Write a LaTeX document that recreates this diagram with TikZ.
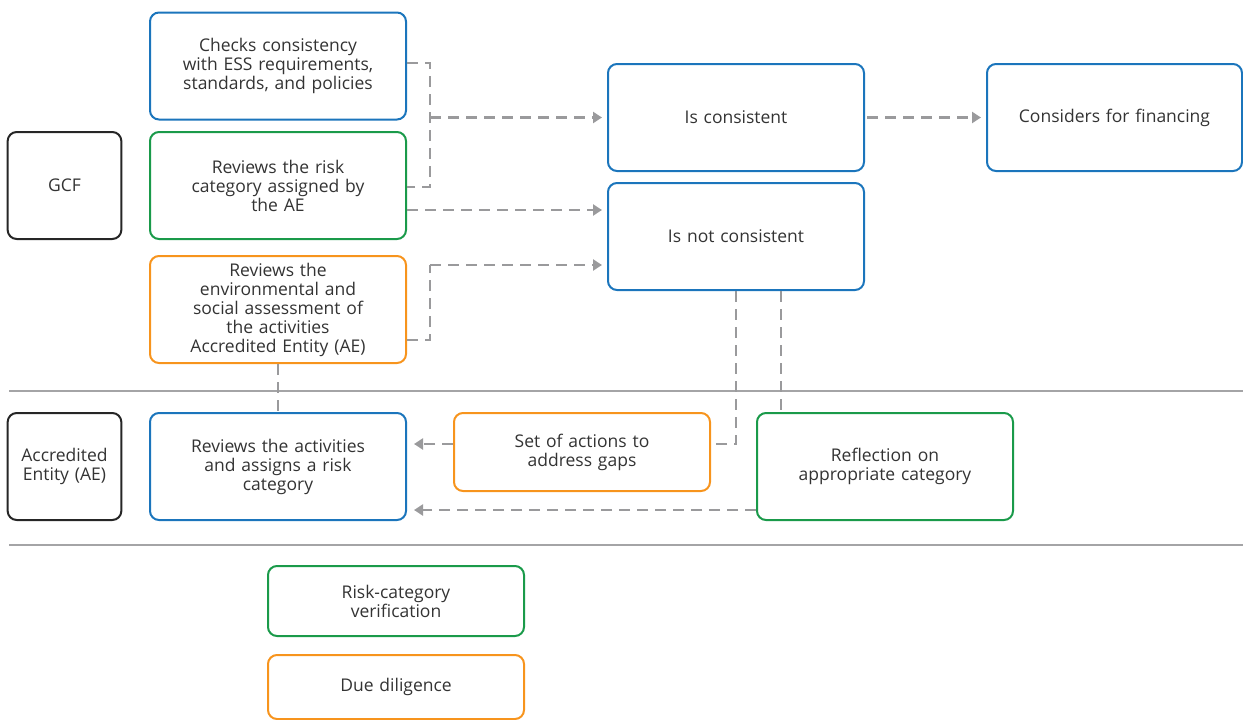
\documentclass[tikz,border=0pt]{standalone}
\usepackage{fontspec}
\setmainfont{Open Sans}
\usetikzlibrary{arrows.meta}

\definecolor{gcfblue}{HTML}{1B75BC}
\definecolor{gcfgreen}{HTML}{1A9A4A}
\definecolor{gcforange}{HTML}{F7941D}
\definecolor{gcfgray}{HTML}{9A9A9C}
\definecolor{gcftext}{HTML}{333333}

\begin{document}
\begin{tikzpicture}[x=1pt, y=-1pt,
    box/.style={draw, line width=2pt, rounded corners=9pt, align=center,
      minimum width=256pt, minimum height=107pt, text width=240pt,
      text=gcftext, font=\fontsize{17.5}{19}\selectfont},
    actor/.style={box, draw=black!85, minimum width=111pt, text width=107pt},
    blue/.style={box, draw=gcfblue},
    green/.style={box, draw=gcfgreen},
    orange/.style={box, draw=gcforange},
    dline/.style={draw=gcfgray, line width=2.5pt, dash pattern=on 11pt off 7pt},
    darr/.style={dline, -{Triangle[length=9pt,width=11pt]}, shorten >=5pt},
    sep/.style={draw=gcfgray!90, line width=2pt}]

      \useasboundingbox (0,0) rectangle (1243,720);

      % Actors
	  \node[actor]                             (gcf) at (64.5,185.5) {GCF};
	  \node[actor]                             (ae) at (64.5,466.5) {Accredited\\Entity (AE)};

      % GCF row
	  \node[blue]                              (checks) at (278,66) {Checks consistency\\with ESS requirements,\\standards, and policies};
	  \node[green]                             (risk) at (278,185.5) {Reviews the risk\\category assigned by\\the AE};
	  \node[orange]                            (env) at (278,309.5) {Reviews the\\environmental and\\social assessment of\\the activities\\Accredited Entity (AE)};
	  \node[blue]                              (cons) at (736,117.5) {Is consistent};
	  \node[blue]                              (notc) at (736,236.5) {Is not consistent};
	  \node[blue, minimum width=255pt]         (fin) at (1114.5,117.5) {Considers for financing};

      % AE row
	  \node[blue]                              (acts) at (278,466.5) {Reviews the activities\\and assigns a risk\\category};
	  \node[orange, minimum height=78pt]       (gaps) at (582,452) {Set of actions to\\address gaps};
	  \node[green]                             (refl) at (885,466.5) {Reflection on\\appropriate category};

      % Legend
	  \node[green, minimum height=70pt]        (leg-risk) at (396,601) {Risk-category\\verification};
	  \node[orange, minimum height=64pt]       (leg-dd) at (396,687) {Due diligence};

      % Separators
	  \draw[sep] (9,391) -- (1243,391);
	  \draw[sep] (9,545) -- (1243,545);

	  % Connect the nodes
	  \coordinate (j1) at (430,117.5);
	  \coordinate (j2) at (430,265);
	  \draw[dline] ([yshift=3pt]checks.east) -| (j1) |- ([yshift=-1.5pt]risk.east);
	  \draw[darr] (j1) -- (j1 -| cons.west);
	  \draw[darr] ([yshift=-24.5pt]risk.east) -- ([yshift=-24.5pt]risk.east -| notc.west);
	  \draw[dline] ([yshift=-30.5pt]env.east) -| (j2);
	  \draw[darr] (j2) -- (j2 -| notc.west);
	  \draw[darr, shorten <=2pt] (cons) -- (fin);
	  \draw[dline] (notc.south) |- ([yshift=8pt]gaps.east);
	  \draw[dline] ([xshift=45pt]notc.south) -- ([xshift=45pt]notc.south |- refl.north);
	  \draw[darr, shorten >=7pt] ([yshift=8pt]gaps.west) -- ([yshift=8pt]gaps.west -| acts.east);
	  \draw[darr, shorten >=7pt] ([yshift=-43.5pt]refl.west) -- ([yshift=-43.5pt]refl.west -| acts.east);
	  \draw[dline] (env.south) -- (acts.north);

	\end{tikzpicture}
\end{document}
